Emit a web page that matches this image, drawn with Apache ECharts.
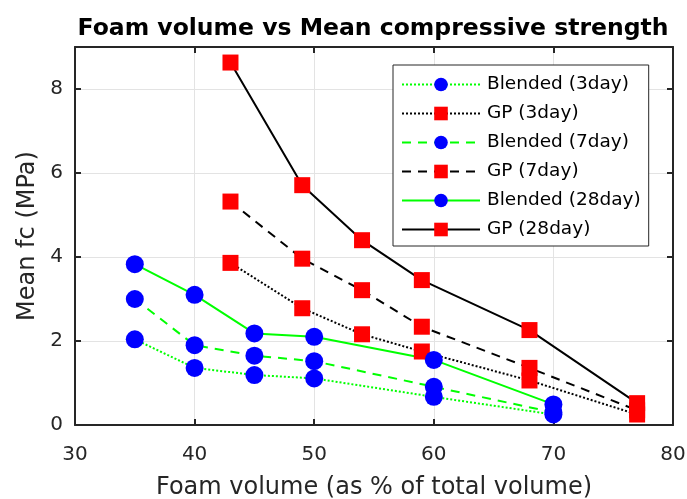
<!DOCTYPE html>
<html><head><meta charset="utf-8">
<script src="https://cdn.jsdelivr.net/npm/echarts@6/dist/echarts.min.js"></script>
<style>html,body{margin:0;padding:0;background:#fff}#c{width:687px;height:499px}</style>
</head><body><div id="c"></div>
<script>
const blendedX = [35, 40, 45, 50, 60, 70];
const gpX = [43, 49, 54, 59, 68, 77];
const blended3 = [2.04, 1.36, 1.19, 1.11, 0.67, 0.25];
const gp3 = [3.86, 2.78, 2.16, 1.75, 1.06, 0.25];
const blended7 = [3.0, 1.90, 1.65, 1.52, 0.91, 0.30];
const gp7 = [5.32, 3.96, 3.21, 2.34, 1.36, 0.35];
const blended28 = [3.83, 3.10, 2.18, 2.10, 1.55, 0.49];
const gp28 = [8.63, 5.71, 4.40, 3.45, 2.26, 0.52];
const names = ['Blended (3day)','GP (3day)','Blended (7day)','GP (7day)','Blended (28day)','GP (28day)'];
const xTicks = [30, 40, 50, 60, 70, 80];
const yTicks = [0, 2, 4, 6, 8];

const FONT = 'DejaVu Sans, sans-serif';
const pair = (xs, ys) => xs.map((x, i) => [x, ys[i]]);
const GREEN = '#00ff00', BLACK = '#000000';
function mk(name, xs, ys, color, type, isGP) {
  return {
    name, type: 'line', data: pair(xs, ys),
    symbol: isGP ? 'rect' : 'circle',
    symbolSize: isGP ? 16 : 18,
    showAllSymbol: true,
    lineStyle: { color, width: 2, type },
    itemStyle: { color: isGP ? '#ff0000' : '#0000ff', borderWidth: 0 },
    emphasis: { disabled: true },
    animation: false
  };
}
const chart = echarts.init(document.getElementById('c'), null, { renderer: 'canvas' });
const axisCommon = {
  axisLine: { show: true, onZero: false, lineStyle: { color: '#262626', width: 2 } },
  axisTick: { show: true, inside: true, length: 6, lineStyle: { color: '#262626', width: 2 } },
};
chart.setOption({
  animation: false,
  backgroundColor: '#fff',
  title: {
    text: 'Foam volume vs Mean compressive strength',
    left: 368, top: 12, textAlign: 'center',
    textStyle: { fontFamily: FONT, fontWeight: 'bold', fontSize: 23.5, color: '#000' }
  },
  legend: {
    data: names, orient: 'vertical', left: 393, top: 65,
    padding: [10, 8, 7, 8], itemGap: 10, itemWidth: 78, itemHeight: 17,
    backgroundColor: '#fff', borderColor: '#262626', borderWidth: 1,
    textStyle: { fontFamily: FONT, fontSize: 18.5, color: '#000', padding: [0,0,0,2] },
    selectedMode: false
  },
  grid: { left: 75, right: 14, top: 47, bottom: 74, containLabel: false, outerBoundsMode: 'none' },
  xAxis: [
    Object.assign({
      type: 'value', min: 30, max: 80, interval: 10, position: 'bottom',
      name: 'Foam volume (as % of total volume)', nameLocation: 'middle', nameGap: 51,
      nameTextStyle: { fontFamily: FONT, fontSize: 24, color: '#262626' },
      axisLabel: { fontFamily: FONT, fontSize: 20, color: '#262626', margin: 20,
        formatter: v => xTicks.includes(v) ? String(v) : '' },
      splitLine: { show: true, lineStyle: { color: '#e3e3e3', width: 1 } }
    }, axisCommon),
    Object.assign({
      type: 'value', min: 30, max: 80, interval: 10, position: 'top',
      axisLabel: { show: false }, splitLine: { show: false }
    }, axisCommon)
  ],
  yAxis: [
    Object.assign({
      type: 'value', min: 0, max: 9, interval: 2, position: 'left',
      name: 'Mean fc (MPa)', nameLocation: 'middle', nameGap: 29, nameRotate: 90,
      nameTextStyle: { fontFamily: FONT, fontSize: 24, color: '#262626' },
      axisLabel: { fontFamily: FONT, fontSize: 20, color: '#262626', margin: 12,
        formatter: v => yTicks.includes(v) ? String(v) : '' },
      splitLine: { show: true, lineStyle: { color: '#e3e3e3', width: 1 } }
    }, axisCommon),
    Object.assign({
      type: 'value', min: 0, max: 9, interval: 2, position: 'right',
      axisLabel: { show: false }, splitLine: { show: false }
    }, axisCommon)
  ],
  series: [
    mk(names[0], blendedX, blended3, GREEN, 'dotted', false),
    mk(names[1], gpX, gp3, BLACK, 'dotted', true),
    mk(names[2], blendedX, blended7, GREEN, [9, 7], false),
    mk(names[3], gpX, gp7, BLACK, [9, 7], true),
    mk(names[4], blendedX, blended28, GREEN, 'solid', false),
    mk(names[5], gpX, gp28, BLACK, 'solid', true)
  ]
});
</script></body></html>
